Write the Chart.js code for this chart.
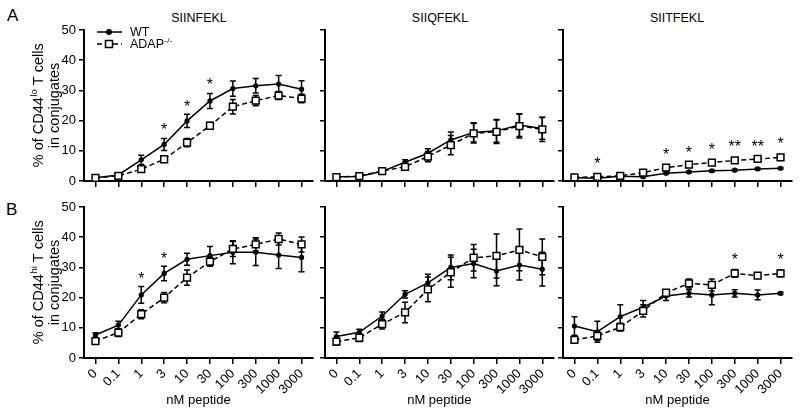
<!DOCTYPE html>
<html>
<head>
<meta charset="utf-8">
<script src="https://cdn.jsdelivr.net/npm/chart.js@4.4.1/dist/chart.umd.min.js"></script>
<style>
  body { margin: 0; background: #fff; width: 800px; height: 414px; overflow: hidden; position: relative;
         font-family: "Liberation Sans", Arial, sans-serif; color: #000; }
  canvas { position: absolute; }
  .txt { position: absolute; white-space: nowrap; }
  .letter { font-size: 17px; line-height: 17px; }
  .title { font-size: 12.5px; line-height: 14px; transform: translateX(-50%); }
</style>
</head>
<body>
<div class="txt letter" style="left:7px; top:7px">A</div>
<div class="txt letter" style="left:6px; top:201px">B</div>
<div class="txt title" style="left:199px; top:11px">SIINFEKL</div>
<div class="txt title" style="left:440px; top:11px">SIIQFEKL</div>
<div class="txt title" style="left:677px; top:11px">SIITFEKL</div>

<canvas id="a1" width="320" height="200" style="left:0; top:0"></canvas>
<canvas id="a2" width="245" height="200" style="left:315px; top:0"></canvas>
<canvas id="a3" width="247" height="200" style="left:553px; top:0"></canvas>
<canvas id="b1" width="320" height="228" style="left:0; top:186px"></canvas>
<canvas id="b2" width="245" height="228" style="left:315px; top:186px"></canvas>
<canvas id="b3" width="247" height="228" style="left:553px; top:186px"></canvas>

<script>
// peptide doses (nM) and series names
const doses = ["0", "0.1", "1", "3", "10", "30", "100", "300", "1000", "3000"];
const seriesNames = ["WT", "ADAP"];
const knockoutSup = "-/-";
const yMax = 50;
const yStep = 10;

// A: CD44lo
const wtA1 = [1.1, 2.0, 7.0, 12.1, 19.9, 26.5, 30.6, 31.5, 32.1, 30.4];
const wtA1Err = [0.3, 0.3, 1.5, 2.0, 2.2, 2.5, 2.5, 2.4, 2.8, 2.8];
const adapA1 = [1.0, 1.7, 3.9, 7.2, 12.7, 18.3, 24.6, 26.6, 28.3, 27.3];
const adapA1Err = [0.2, 0.3, 0.6, 0.5, 1.4, 1.1, 2.4, 1.7, 1.3, 1.4];
const starsA1 = ["", "", "", "*", "*", "*", "", "", "", ""];
const starYA1 = [0, 0, 0, 18.0, 25.5, 33.0, 0, 0, 0, 0];

const wtA2 = [1.4, 1.5, 3.2, 6.2, 9.2, 13.6, 16.1, 16.6, 18.5, 17.4];
const wtA2Err = [0.3, 0.3, 0.4, 0.8, 1.5, 2.6, 3.2, 3.8, 3.8, 3.6];
const adapA2 = [1.3, 1.6, 3.3, 4.7, 8.1, 11.9, 15.8, 16.3, 18.2, 17.1];
const adapA2Err = [0.3, 0.3, 0.4, 0.8, 1.7, 3.2, 3.2, 3.9, 4.0, 4.0];
const starsA2 = ["", "", "", "", "", "", "", "", "", ""];
const starYA2 = [0, 0, 0, 0, 0, 0, 0, 0, 0, 0];

const wtA3 = [1.1, 0.9, 1.6, 1.4, 2.6, 3.0, 3.4, 3.6, 4.0, 4.2];
const wtA3Err = [0.2, 0.2, 0.2, 0.2, 0.3, 0.3, 0.3, 0.3, 0.3, 0.3];
const adapA3 = [1.2, 1.4, 1.7, 2.8, 4.4, 5.4, 6.1, 6.8, 7.3, 7.8];
const adapA3Err = [0.2, 0.3, 0.3, 0.3, 0.4, 0.4, 0.4, 0.4, 0.4, 0.5];
const starsA3 = ["", "*", "", "", "*", "*", "*", "**", "**", "*"];
const starYA3 = [0, 6.6, 0, 0, 9.7, 10.5, 11.4, 12.3, 12.3, 13.4];

// B: CD44hi
const wtB1 = [7.6, 10.9, 20.9, 28.0, 32.7, 33.9, 35.0, 35.0, 34.1, 33.3];
const wtB1Err = [0.8, 1.3, 2.8, 2.4, 2.0, 3.0, 3.8, 4.4, 4.5, 4.7];
const adapB1 = [5.6, 8.4, 14.5, 20.0, 26.6, 31.9, 36.1, 37.6, 39.4, 37.6];
const adapB1Err = [1.0, 1.3, 1.5, 1.7, 2.5, 1.5, 2.5, 2.2, 2.0, 2.5];
const starsB1 = ["", "", "*", "*", "", "", "", "", "", ""];
const starYB1 = [0, 0, 27.2, 33.9, 0, 0, 0, 0, 0, 0];

const wtB2 = [7.1, 8.5, 13.9, 21.1, 24.9, 30.0, 31.3, 28.8, 30.8, 29.4];
const wtB2Err = [1.5, 1.0, 1.3, 1.2, 2.8, 4.1, 4.7, 4.9, 5.0, 5.6];
const adapB2 = [5.4, 6.7, 11.2, 15.1, 22.7, 28.4, 33.2, 33.8, 35.8, 33.5];
const adapB2Err = [1.2, 1.2, 1.6, 3.4, 4.1, 5.0, 4.4, 7.3, 6.9, 5.9];
const starsB2 = ["", "", "", "", "", "", "", "", "", ""];
const starYB2 = [0, 0, 0, 0, 0, 0, 0, 0, 0, 0];

const wtB3 = [10.6, 8.7, 13.7, 16.8, 20.5, 21.4, 20.9, 21.4, 20.9, 21.4];
const wtB3Err = [3.1, 3.5, 3.9, 2.2, 1.5, 1.2, 3.3, 1.2, 1.6, 0.4];
const adapB3 = [6.0, 7.3, 10.2, 15.6, 21.6, 24.7, 24.2, 28.0, 27.3, 28.0];
const adapB3Err = [0.7, 1.5, 1.3, 2.0, 1.0, 1.5, 2.0, 1.3, 0.8, 1.1];
const starsB3 = ["", "", "", "", "", "", "", "*", "", "*"];
const starYB3 = [0, 0, 0, 0, 0, 0, 0, 33.5, 0, 33.5];

const FONT = '"Liberation Sans", Arial, sans-serif';
Chart.defaults.font.family = FONT;
Chart.defaults.font.size = 13;
Chart.defaults.color = "#000";

// SEM bars, drawn under the lines
const errorBars = {
  id: "errorBars",
  beforeDatasetsDraw(chart) {
    const ctx = chart.ctx;
    const y = chart.scales.y;
    chart.data.datasets.forEach((ds, i) => {
      const meta = chart.getDatasetMeta(i);
      ctx.save();
      ctx.strokeStyle = "#000";
      ctx.lineWidth = 1.5;
      meta.data.forEach((pt, j) => {
        const e = ds.errors[j];
        if (!e) return;
        const top = y.getPixelForValue(ds.data[j] + e);
        const bot = y.getPixelForValue(ds.data[j] - e);
        ctx.beginPath();
        ctx.moveTo(pt.x, top); ctx.lineTo(pt.x, bot);
        ctx.moveTo(pt.x - 3, top); ctx.lineTo(pt.x + 3, top);
        ctx.moveTo(pt.x - 3, bot); ctx.lineTo(pt.x + 3, bot);
        ctx.stroke();
      });
      ctx.restore();
    });
  },
};

// significance asterisks
const starMarks = {
  id: "starMarks",
  afterDatasetsDraw(chart, args, opts) {
    const ctx = chart.ctx;
    const x = chart.scales.x, y = chart.scales.y;
    ctx.save();
    ctx.font = "16px " + FONT;
    ctx.fillStyle = "#000";
    ctx.textAlign = "center";
    ctx.textBaseline = "middle";
    opts.marks.forEach((m, i) => {
      if (!m) return;
      ctx.fillText(m, x.getPixelForValue(i), y.getPixelForValue(opts.pos[i]) + 4);
    });
    ctx.restore();
  },
};

// rotated two-line y title with a superscript ("lo" / "hi")
const yTitle = {
  id: "yTitle",
  afterDraw(chart, args, opts) {
    if (!opts.sup) return;
    const ctx = chart.ctx;
    const a = chart.chartArea;
    const cy = (a.top + a.bottom) / 2;
    const big = "14.5px " + FONT, small = "9.5px " + FONT;
    const head = "% of CD44", tail = " T cells", second = "in conjugates";
    ctx.save();
    ctx.fillStyle = "#000";
    ctx.textBaseline = "middle";
    ctx.translate(39, cy);
    ctx.rotate(-Math.PI / 2);
    ctx.font = big;
    const wHead = ctx.measureText(head).width, wTail = ctx.measureText(tail).width;
    ctx.font = small;
    const wSup = ctx.measureText(opts.sup).width;
    let x = -(wHead + wSup + wTail) / 2;
    ctx.font = big;
    ctx.textAlign = "left";
    ctx.fillText(head, x, 0);
    ctx.font = small;
    ctx.fillText(opts.sup, x + wHead + 0.5, -5);
    ctx.font = big;
    ctx.fillText(tail, x + wHead + wSup + 0.5, 0);
    ctx.textAlign = "center";
    ctx.fillText(second, 0, 16);
    ctx.restore();
  },
};

// legend inside the first panel
const seriesLegend = {
  id: "seriesLegend",
  afterDraw(chart) {
    const ctx = chart.ctx;
    const a = chart.chartArea;
    const x0 = a.left + 13, x1 = a.left + 38, xm = a.left + 25;
    const rows = [a.top + 2, a.top + 14];
    ctx.save();
    ctx.strokeStyle = "#000";
    ctx.fillStyle = "#000";
    ctx.lineWidth = 1.5;
    // WT
    ctx.beginPath(); ctx.moveTo(x0, rows[0]); ctx.lineTo(x1, rows[0]); ctx.stroke();
    ctx.beginPath(); ctx.arc(xm, rows[0], 3, 0, Math.PI * 2); ctx.fill();
    // ADAP
    ctx.setLineDash([5, 3]);
    ctx.beginPath(); ctx.moveTo(x0, rows[1]); ctx.lineTo(x1, rows[1]); ctx.stroke();
    ctx.setLineDash([]);
    ctx.fillStyle = "#fff";
    ctx.fillRect(xm - 3.5, rows[1] - 3.5, 7, 7);
    ctx.strokeRect(xm - 3.5, rows[1] - 3.5, 7, 7);
    ctx.fillStyle = "#000";
    ctx.font = "12.5px " + FONT;
    ctx.textBaseline = "middle";
    ctx.fillText(seriesNames[0], x1 + 8, rows[0] + 1);
    ctx.fillText(seriesNames[1], x1 + 8, rows[1] + 1);
    const w = ctx.measureText(seriesNames[1]).width;
    ctx.font = "8px " + FONT;
    ctx.fillText(knockoutSup, x1 + 8 + w + 0.5, rows[1] - 3);
    ctx.restore();
  },
};

function buildPanel(id, wt, wtErr, adap, adapErr, stars, starPos, cfg) {
  const plugins = [errorBars, starMarks, yTitle];
  if (cfg.legend) plugins.push(seriesLegend);
  return new Chart(document.getElementById(id), {
    type: "line",
    data: {
      labels: doses,
      datasets: [
        {
          label: seriesNames[1], data: adap, errors: adapErr,
          borderColor: "#000", borderWidth: 1.5, borderDash: [5, 3],
          pointStyle: "rect", pointRadius: 4.8,
          pointBackgroundColor: "#fff", pointBorderColor: "#000", pointBorderWidth: 1.5,
          tension: 0,
        },
        {
          label: seriesNames[0], data: wt, errors: wtErr,
          borderColor: "#000", borderWidth: 1.5,
          pointStyle: "circle", pointRadius: 2.6,
          pointBackgroundColor: "#000", pointBorderColor: "#000", pointBorderWidth: 0,
          tension: 0,
        },
      ],
    },
    options: {
      responsive: false,
      animation: false,
      events: [],
      layout: { padding: cfg.padding },
      plugins: {
        legend: { display: false },
        tooltip: { enabled: false },
        starMarks: { marks: stars, pos: starPos },
        yTitle: { sup: cfg.ySup || "" },
      },
      scales: {
        x: {
          type: "category",
          offset: true,
          grid: { display: true, offset: false, drawOnChartArea: false, drawTicks: true, tickLength: 6, color: "#000", lineWidth: 1.5 },
          border: { display: true, color: "#000", width: 2 },
          ticks: { display: cfg.showX, autoSkip: false, maxRotation: 45, minRotation: 45, padding: 2, font: { size: 13 } },
          title: { display: cfg.showX, text: "nM peptide", font: { size: 13 }, padding: { top: 2, bottom: 6 } },
          afterFit: (s) => { s.height = cfg.xHeight; },
        },
        y: {
          min: 0,
          max: yMax,
          grid: { display: true, drawOnChartArea: false, drawTicks: true, tickLength: 5, color: "#000", lineWidth: 1.5 },
          border: { display: true, color: "#000", width: 2 },
          ticks: { display: cfg.showY, stepSize: yStep, padding: 3, font: { size: 13 } },
          afterFit: (s) => { s.width = cfg.yWidth; },
        },
      },
    },
    plugins: plugins,
  });
}

buildPanel("a1", wtA1, wtA1Err, adapA1, adapA1Err, starsA1, starYA1,
  { yWidth: 84, xHeight: 19, padding: { top: 30, right: 7 }, showY: true, showX: false, legend: true, ySup: "lo" });
buildPanel("a2", wtA2, wtA2Err, adapA2, adapA2Err, starsA2, starYA2,
  { yWidth: 10, xHeight: 19, padding: { top: 30, right: 6 }, showY: false, showX: false });
buildPanel("a3", wtA3, wtA3Err, adapA3, adapA3Err, starsA3, starYA3,
  { yWidth: 10, xHeight: 19, padding: { top: 30, right: 8 }, showY: false, showX: false });
buildPanel("b1", wtB1, wtB1Err, adapB1, adapB1Err, starsB1, starYB1,
  { yWidth: 84, xHeight: 56, padding: { top: 21, right: 7 }, showY: true, showX: true, ySup: "hi" });
buildPanel("b2", wtB2, wtB2Err, adapB2, adapB2Err, starsB2, starYB2,
  { yWidth: 10, xHeight: 56, padding: { top: 21, right: 6 }, showY: false, showX: true });
buildPanel("b3", wtB3, wtB3Err, adapB3, adapB3Err, starsB3, starYB3,
  { yWidth: 10, xHeight: 56, padding: { top: 21, right: 8 }, showY: false, showX: true });
</script>
</body>
</html>
